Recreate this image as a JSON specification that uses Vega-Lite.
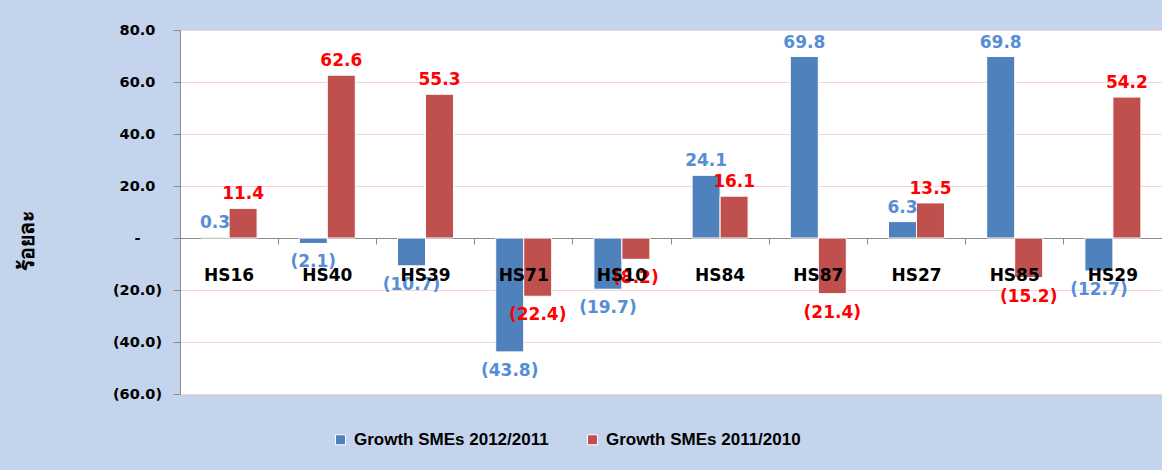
{
  "$schema": "https://vega.github.io/schema/vega-lite/v6.json",
  "width": 982,
  "height": 364,
  "autosize": {"type": "none"},
  "padding": {"left": 180, "top": 30, "right": 0, "bottom": 76},
  "background": "#c4d4ec",
  "config": {
    "view": {"fill": "white", "stroke": null},
    "font": "DejaVu Sans"
  },
  "data": {
    "values": [
      {"hs": "HS16", "series": "Growth SMEs 2012/2011", "value": 0.3},
      {"hs": "HS16", "series": "Growth SMEs 2011/2010", "value": 11.4},
      {"hs": "HS40", "series": "Growth SMEs 2012/2011", "value": -2.1},
      {"hs": "HS40", "series": "Growth SMEs 2011/2010", "value": 62.6},
      {"hs": "HS39", "series": "Growth SMEs 2012/2011", "value": -10.7},
      {"hs": "HS39", "series": "Growth SMEs 2011/2010", "value": 55.3},
      {"hs": "HS71", "series": "Growth SMEs 2012/2011", "value": -43.8},
      {"hs": "HS71", "series": "Growth SMEs 2011/2010", "value": -22.4},
      {"hs": "HS10", "series": "Growth SMEs 2012/2011", "value": -19.7},
      {"hs": "HS10", "series": "Growth SMEs 2011/2010", "value": -8.2},
      {"hs": "HS84", "series": "Growth SMEs 2012/2011", "value": 24.1},
      {"hs": "HS84", "series": "Growth SMEs 2011/2010", "value": 16.1},
      {"hs": "HS87", "series": "Growth SMEs 2012/2011", "value": 69.8},
      {"hs": "HS87", "series": "Growth SMEs 2011/2010", "value": -21.4},
      {"hs": "HS27", "series": "Growth SMEs 2012/2011", "value": 6.3},
      {"hs": "HS27", "series": "Growth SMEs 2011/2010", "value": 13.5},
      {"hs": "HS85", "series": "Growth SMEs 2012/2011", "value": 69.8},
      {"hs": "HS85", "series": "Growth SMEs 2011/2010", "value": -15.2},
      {"hs": "HS29", "series": "Growth SMEs 2012/2011", "value": -12.7},
      {"hs": "HS29", "series": "Growth SMEs 2011/2010", "value": 54.2}
    ]
  },
  "encoding": {
    "x": {
      "field": "hs", "type": "nominal", "sort": null,
      "scale": {"paddingInner": 0, "paddingOuter": 0},
      "axis": {
        "orient": "bottom", "offset": -156, "title": null,
        "labels": false, "ticks": true, "tickSize": 6, "tickColor": "#8c8c8c",
        "domainColor": "#8c8c8c", "domainWidth": 1.2, "bandPosition": 0, "grid": false
      }
    },
    "y": {
      "field": "value", "type": "quantitative",
      "scale": {"domain": [-60, 80], "nice": false, "zero": false},
      "axis": {
        "values": [-60, -40, -20, 0, 20, 40, 60, 80],
        "labelExpr": "datum.value == 0 ? '-' : (datum.value < 0 ? '(' + format(-datum.value, '.1f') + ')' : format(datum.value, '.1f'))",
        "labelFont": "DejaVu Sans", "labelFontSize": 14.5, "labelFontWeight": "bold", "labelColor": "#000000",
        "labelAlign": "center", "labelPadding": 36,
        "tickSize": 7, "tickColor": "#8c8c8c", "domainColor": "#8c8c8c",
        "gridColor": "#f6d3d3", "grid": true,
        "title": "ร้อยละ", "titleFontSize": 21, "titleFontWeight": "bold", "titleColor": "#000000",
        "titleX": -153, "titleY": 210, "titleAngle": -90, "titleAlign": "center", "titleBaseline": "middle"
      }
    }
  },
  "layer": [
    {
      "mark": {"type": "bar", "stroke": "white", "strokeWidth": 1},
      "encoding": {
        "xOffset": {"field": "series", "type": "nominal", "sort": null, "scale": {"paddingInner": 0, "paddingOuter": 0.754}},
        "color": {
          "field": "series", "type": "nominal", "sort": null,
          "scale": {"domain": ["Growth SMEs 2012/2011", "Growth SMEs 2011/2010"], "range": ["#4f81bd", "#c0504d"]},
          "legend": {
            "title": null, "orient": "none", "direction": "horizontal",
            "legendX": 152, "legendY": 401, "padding": 0,
            "symbolType": "square", "symbolSize": 100, "symbolStrokeColor": "white", "symbolStrokeWidth": 1,
            "labelFont": "Liberation Sans", "labelFontSize": 17, "labelFontWeight": "bold", "labelColor": "#000000",
            "labelLimit": 0, "columnPadding": 35, "labelOffset": 5
          }
        }
      }
    },
    {
      "transform": [{"filter": "datum.value >= 0"}],
      "mark": {"type": "text", "baseline": "middle", "dy": -14, "font": "DejaVu Sans", "fontSize": 17, "fontWeight": "bold"},
      "encoding": {
        "xOffset": {"field": "series", "type": "nominal", "sort": null, "scale": {"paddingInner": 0, "paddingOuter": 0.754}},
        "text": {"field": "value", "type": "quantitative", "format": "(.1f"},
        "color": {
          "field": "series", "type": "nominal", "sort": null,
          "scale": {"domain": ["Growth SMEs 2012/2011", "Growth SMEs 2011/2010"], "range": ["#558ed5", "#ff0000"]},
          "legend": null
        }
      }
    },
    {
      "transform": [{"filter": "datum.value < 0"}],
      "mark": {"type": "text", "baseline": "middle", "dy": 19, "font": "DejaVu Sans", "fontSize": 17, "fontWeight": "bold"},
      "encoding": {
        "xOffset": {"field": "series", "type": "nominal", "sort": null, "scale": {"paddingInner": 0, "paddingOuter": 0.754}},
        "text": {"field": "value", "type": "quantitative", "format": "(.1f"},
        "color": {
          "field": "series", "type": "nominal", "sort": null,
          "scale": {"domain": ["Growth SMEs 2012/2011", "Growth SMEs 2011/2010"], "range": ["#558ed5", "#ff0000"]},
          "legend": null
        }
      }
    },
    {
      "transform": [{"filter": "datum.series == 'Growth SMEs 2012/2011'"}],
      "mark": {"type": "text", "baseline": "middle", "dy": 38, "font": "DejaVu Sans", "fontSize": 17, "fontWeight": "bold", "color": "#000000"},
      "encoding": {
        "y": {"datum": 0},
        "text": {"field": "hs", "type": "nominal"}
      }
    }
  ],
  "resolve": {"scale": {"color": "independent"}}
}
